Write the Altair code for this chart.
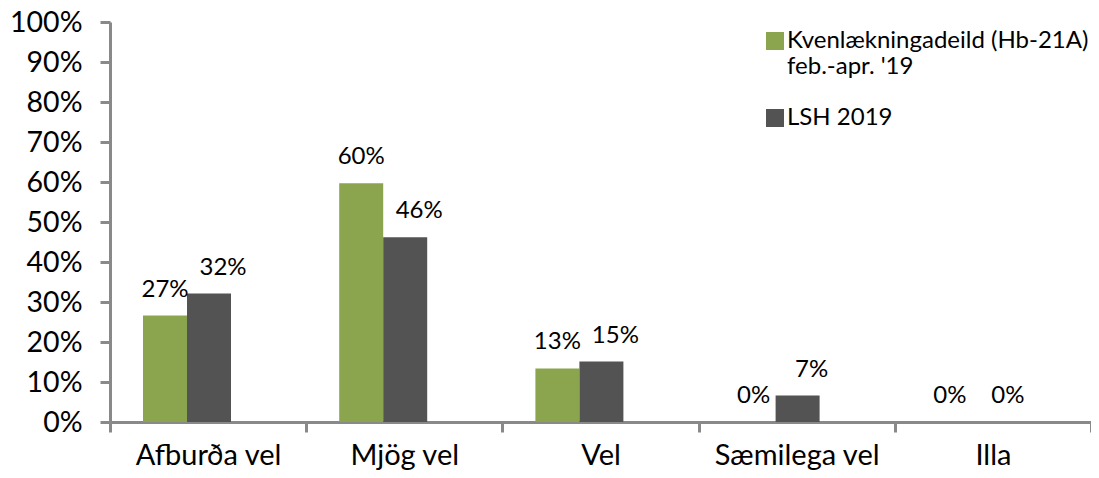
import altair as alt
import pandas as pd

categories = ["Afburða vel", "Mjög vel", "Vel", "Sæmilega vel", "Illa"]
series = ["Kvenlækningadeild (Hb-21A)|feb.-apr. '19", "LSH 2019"]
green_vals = [0.266, 0.597, 0.134, 0.0, 0.0]
gray_vals = [0.321, 0.462, 0.151, 0.066, 0.0]
colors = ["#8AA54E", "#535353"]
y_ticks = [i / 10 for i in range(11)]

rows = []
for c, g, d in zip(categories, green_vals, gray_vals):
    rows.append({"cat": c, "series": series[0], "val": g})
    rows.append({"cat": c, "series": series[1], "val": d})
df = pd.DataFrame(rows)

FONT = "Lato"
AX = "#898989"

x_enc = alt.X(
    "cat:N", sort=categories,
    scale=alt.Scale(paddingInner=0, paddingOuter=0),
    axis=alt.Axis(title=None, labelAngle=0, tickBand="extent", labelFont=FONT,
                  labelFontSize=29, labelColor="#000000", labelPadding=9,
                  domainColor=AX, domainWidth=3, tickColor=AX, tickWidth=3,
                  tickSize=10, grid=False),
)
xo_enc = alt.XOffset("series:N", sort=series,
                     scale=alt.Scale(range=[33, 121], paddingInner=0, paddingOuter=0))
y_enc = alt.Y(
    "val:Q", scale=alt.Scale(domain=[0, 1], nice=False),
    axis=alt.Axis(title=None, values=y_ticks, format=".0%", labelFont=FONT,
                  labelFontSize=28.5, labelColor="#000000", labelPadding=18,
                  domainColor=AX, domainWidth=3, tickColor=AX, tickWidth=3,
                  tickSize=10, grid=False),
)

bars = alt.Chart(df).mark_bar().encode(
    x=x_enc, xOffset=xo_enc, y=y_enc,
    color=alt.Color(
        "series:N", sort=series,
        scale=alt.Scale(domain=series, range=colors),
        legend=alt.Legend(
            title=None, orient="none", legendX=653, legendY=7,
            symbolType="square", symbolSize=324, symbolStrokeWidth=0,
            labelFont=FONT, labelFontSize=24, labelColor="#000000",
            labelExpr="split(datum.label, '|')", labelBaseline="middle",
            labelOffset=0, rowPadding=27, padding=0, labelLimit=400,
        ),
    ),
)

labels_green = alt.Chart(df).transform_filter(
    alt.datum.series == series[0]
).mark_text(baseline="bottom", dy=-14, font=FONT, fontSize=24, color="#000000").encode(
    x=x_enc, xOffset=xo_enc, y=y_enc, text=alt.Text("val:Q", format=".0%"),
)
labels_gray = alt.Chart(df).transform_filter(
    alt.datum.series == series[1]
).mark_text(baseline="bottom", dy=-14, dx=14, font=FONT, fontSize=24, color="#000000").encode(
    x=x_enc, xOffset=xo_enc, y=y_enc, text=alt.Text("val:Q", format=".0%"),
)

chart = alt.layer(bars, labels_green, labels_gray).properties(
    width=981, height=400,
    autosize=alt.AutoSizeParams(type="none"),
    padding={"left": 102, "top": 14, "right": 0, "bottom": 48},
).configure_view(stroke=None)

chart.save("out.html", embed_options={"renderer": "svg", "actions": False})
